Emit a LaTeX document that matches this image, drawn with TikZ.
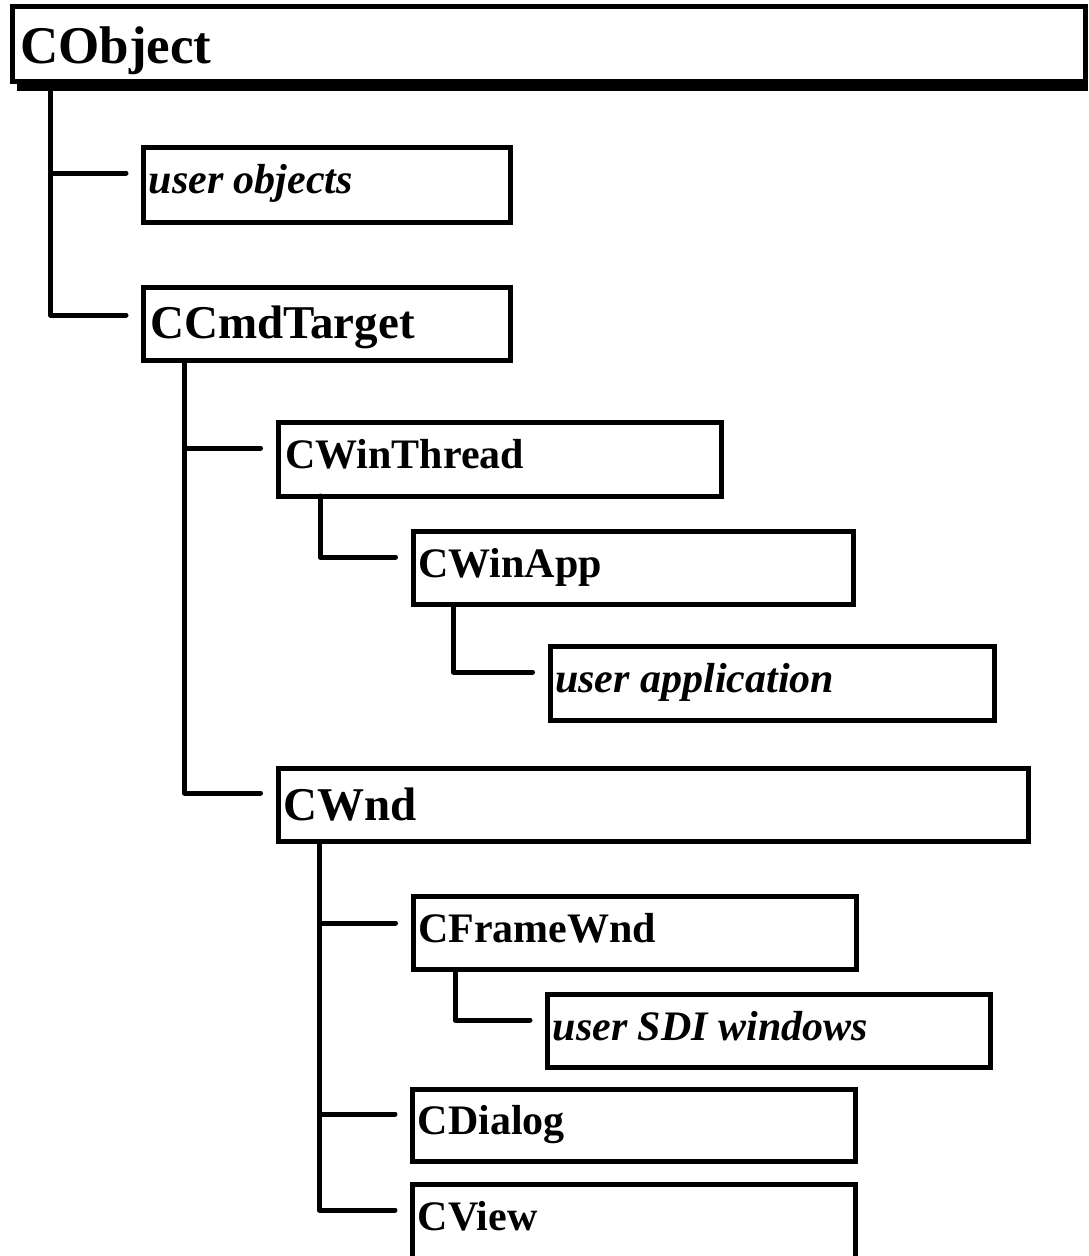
\documentclass[tikz,border=0pt]{standalone}
\usepackage{fontspec}
\setmainfont{Liberation Serif}
\usetikzlibrary{calc}
\tikzset{
  box/.style={draw, line width=5pt, rectangle, inner sep=0pt, outer sep=0pt, fill=white, anchor=north west, minimum height=74pt},
  lbl/.style={inner sep=0pt, anchor=base west, font=\fontsize{42}{50}\selectfont\bfseries},
  lblit/.style={inner sep=0pt, anchor=base west, font=\fontsize{42}{50}\selectfont\bfseries\itshape},
  lblbig/.style={inner sep=0pt, anchor=base west, font=\fontsize{47}{56}\selectfont\bfseries},
  conn/.style={line width=5pt, line cap=round, line join=round},
}
\begin{document}
\begin{tikzpicture}[x=1pt,y=-1pt]
\clip (0,0) rectangle (1088,1256);
\fill[white] (0,0) rectangle (1088,1256);
% root box with shadow
\fill[black] (17,79) rectangle (1087.5,91);
\node[box, minimum width=1072.5pt, minimum height=75.5pt] (cobj) at (12.5,6) {};
\node[inner sep=0pt, anchor=base west, font=\fontsize{53}{62}\selectfont\bfseries] (cobjt) at ($(cobj.north west)+(7.5,57)$) {CObject};
% boxes
\node[box, minimum width=367pt, minimum height=75pt] (uobj) at (143.5,147.5) {};
\node[box, minimum width=367pt, minimum height=73.5pt] (ccmd) at (143.5,287) {};
\node[box, minimum width=443pt] (cwt) at (278,422) {};
\node[box, minimum width=440.5pt, minimum height=73.5pt] (cwa) at (413,531) {};
\node[box, minimum width=444.5pt] (uapp) at (550,646) {};
\node[box, minimum width=750.5pt, minimum height=73pt] (cwnd) at (278,768.5) {};
\node[box, minimum width=443pt, minimum height=73pt] (cfw) at (413,896.5) {};
\node[box, minimum width=442.5pt, minimum height=73pt] (usdi) at (547.5,994) {};
\node[box, minimum width=443pt, minimum height=72pt] (cdlg) at (412.5,1089.5) {};
\node[box, minimum width=443pt] (cview) at (412.5,1184.5) {};
% labels
\node[lblit] (uobjt) at ($(uobj.north west)+(5,46)$) {user objects};
\node[lblbig] (ccmdt) at ($(ccmd.north west)+(6.5,51)$) {CCmdTarget};
\node[lbl] (cwtt) at ($(cwt.north west)+(7,46)$) {CWinThread};
\node[lbl] (cwat) at ($(cwa.north west)+(5,46)$) {CWinApp};
\node[lblit] (uappt) at ($(uapp.north west)+(5,46)$) {user application};
\node[lblbig] (cwndt) at ($(cwnd.north west)+(5,51.5)$) {CWnd};
\node[lbl] (cfwt) at ($(cfw.north west)+(5,46)$) {CFrameWnd};
\node[lblit] (usdit) at ($(usdi.north west)+(5,46)$) {user SDI windows};
\node[lbl] (cdlgt) at ($(cdlg.north west)+(5,45)$) {CDialog};
\node[lbl] (cviewt) at ($(cview.north west)+(5,45.5)$) {CView};
% connectors
\draw[conn] ($(cobj.south west)+(38,0)$) |- ($(uobj.north west)+(-17.5,25.5)$);
\draw[conn] ($(cobj.south west)+(38,0)$) |- ($(ccmd.north west)+(-17.5,28)$);
\draw[conn] ($(ccmd.south west)+(41,0)$) |- ($(cwt.north west)+(-17.5,26)$);
\draw[conn] ($(ccmd.south west)+(41,0)$) |- ($(cwnd.north west)+(-17.5,24.5)$);
\draw[conn] ($(cwt.south west)+(42,0)$) |- ($(cwa.north west)+(-17.5,26)$);
\draw[conn] ($(cwa.south west)+(40.5,0)$) |- ($(uapp.north west)+(-17.5,26)$);
\draw[conn] ($(cwnd.south west)+(41.5,0)$) |- ($(cfw.north west)+(-17.5,26.5)$);
\draw[conn] ($(cwnd.south west)+(41.5,0)$) |- ($(cdlg.north west)+(-17.5,24.5)$);
\draw[conn] ($(cwnd.south west)+(41.5,0)$) |- ($(cview.north west)+(-17.5,25.5)$);
\draw[conn] ($(cfw.south west)+(42,0)$) |- ($(usdi.north west)+(-17.5,26)$);
\end{tikzpicture}
\end{document}
